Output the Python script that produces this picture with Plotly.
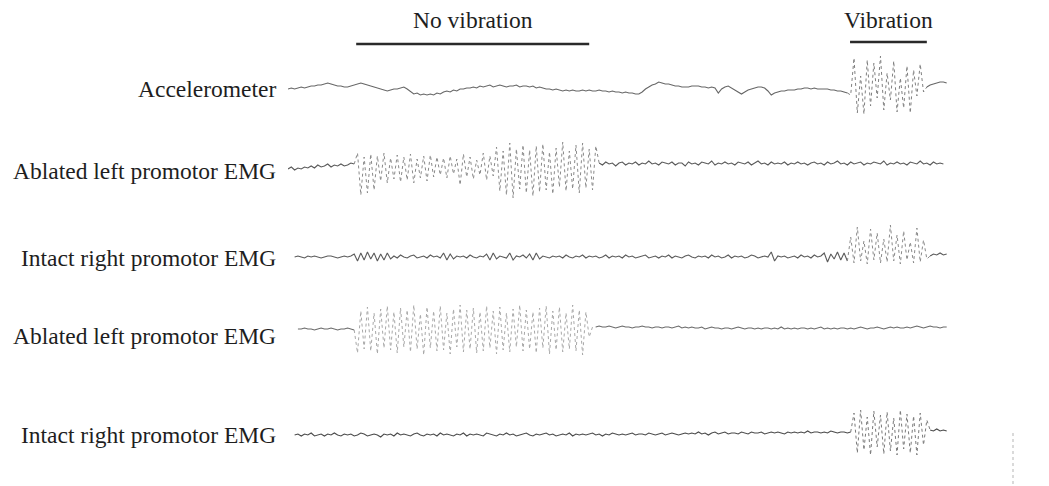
import plotly.graph_objects as go

# ---------------- data (amplitude in arbitrary units, one sample every 0.05 s) ----------------
dt = 0.05
channel_labels = ["Accelerometer", "Ablated left promotor EMG", "Intact right promotor EMG",
                  "Ablated left promotor EMG", "Intact right promotor EMG"]

no_vibration_period = [1.03, 4.55]   # s
vibration_period = [8.49, 9.65]      # s

accel = [
    -1, 0, -1, 0, 1, 0, 1, 2, 2, 3,
    3, 4, 5, 4, 3, 2, 2, 1, 1, 2,
    3, 4, 5, 4, 3, 2, 1, 0, -1, -2,
    -3, -2, -1, -1, 0, 1, -1, -4, -6, -5,
    -7, -6, -7, -6, -7, -5, -6, -4, -3, -4,
    -2, -3, -1, -1, 0, 0, 1, 0, 2, 1,
    2, 3, 1, 2, 3, 2, 1, 2, 2, 3,
    1, 2, 2, 1, 2, 0, 1, 0, -1, -1,
    -2, -1, -2, -3, -2, -3, -2, -3, -3, -2,
    -3, -2, -3, -3, -2, -3, -3, -4, -3, -4,
    -4, -5, -4, -5, -5, -6, -6, -4, -1, 1,
    3, 4, 6, 5, 4, 4, 3, 2, 2, 1,
    1, 1, 2, 2, 2, 1, 1, 0, 1, 0,
    -5, -1, 1, 2, 0, -2, -4, -6, -4, -2,
    -1, 0, 1, 1, 0, -3, -7, -5, -4, -3,
    -3, -2, -2, -2, -1, -1, 0, 0, -1, 0,
    -1, -1, -1, -1, -2, -2, -3, -3, -4, -5,
    -7, 30, -25, 12, -26, 28, -18, 25, -10, 32, -22, 15, -12, 27, -24, 10, -20, 22, -25, 18, -8, 24, -4,
    1, 3, 4, 5, 6, 6, 5,
]

ablated_left_1 = [
    -4, -2, -5, -3, -4, -2, -3, -1, -3, 0, -2, -1, 1, -2, 0, -1, 1, -1, 0, 2, 1,
    12, -30, 8, -28, 11, -25,
    9, -16, 12, -18, 7, -14, 10, -17, 8, -15, 11, -18, 6, -13, 9, -16, 10, -12, 8,
    -10, 7, -13, 9, -9, 6, -20, 11, -12, 8, -14, 5, -10, 12, -15, 9, -11,
    18, -26, 14, -30, 22, -33, 16, -24, 20, -28, 15, -31, 19, -27, 21, -25, 13, -29,
    17, -22, 23, -26, 14, -24, 20, -28, 22, -23, 16, -25, 19,
    2, 0, 3, 1, 2, -1, 2, 3, 0, 2,
    1, 3, 0, 2, 1, 4, 1, 2, 0, 3,
    2, 1, 3, 0, 2, 2, -1, 3, 1, 2,
    0, 3, 2, 1, 4, 0, 2, 1, 3, 1,
    2, 0, 3, 2, 1, 3, 0, 2, 4, 1,
    2, 0, 3, 1, 2, 1, 3, 0, 2, 1,
    3, 1, 2, 0, 2, 3, 1, 2, 0, 3,
    1, 2, 4, 1, 2, 0, 3, 1, 2, 3,
    0, 2, 1, 3, 2, 1, 4, 0, 2, 1,
    3, 1, 2, 0, 3, 2, 1, 4, 1, 2,
    0, 3, 1, 2, 1,
]

intact_right_1 = [
    None, None,
    0, 1, 0, -1, 1, 0, 1, 0, -1, 0, 1, 1, 0, -1, 0, 1, 0, 1,
    3, -4, 4, -3, 5, -2, 4, -4, 3, -3, 4, -2,
    1, -1, 2, 0, -1, 1, 2, -1, 0, 1,
    -1, 2, 0, 1, -1, 4, -3, 3, -2, 1,
    0, 1, -1, 2, 0, -1, 1, 0, 3, -3,
    4, -2, 1, 0, -1, 4, -3, 1, 0, 2,
    -1, 3, -3, 4, -2, 1, 0, -1, 1, 0,
    1, -1, 2, 0, -1, 1, 0, 2, -1, 1,
    0, 1, -1, 0, 2, -1, 1, 0, 1, -1,
    2, 0, 1, -1, 0, 1, 2, -1, 0, 1,
    -1, 1, 0, 2, -1, 1, 0, -1, 1, 2,
    0, -1, 1, 0, 1, -1, 2, 0, 1, -1,
    0, 2, -1, 1, 0, 1, -1, 0, 2, 1,
    -1, 0, 1, 0, 5, -4, 1, 0, 1, -1,
    0, 1, -1, 2, 0, 1, -1, 2, 0, 1,
    4, -5, 3, -2, 5, -3, 4, -4,
    20, -6, 30, -4, 16, -7, 28, -3, 24, -6, 18, -5, 32, -4, 22, -7, 26, -3, 15, -6, 29, -5, 17, -2,
    1, 3, 2, 4, 2, 3,
]

ablated_left_2 = [
    None, None, None,
    0, 0, 1, 0, 0, -1, 0, 1, 0, 0, 1, 0, -1, 0, 0, 1, 0, -1,
    -24, 18, -20, 22, -22, 16, -25, 20, -19, 23,
    -21, 17, -24, 21, -18, 19, -23, 24, -20, 15,
    -26, 22, -19, 18, -22, 23, -21, 16, -25, 20,
    -18, 24, -23, 19, -20, 21, -24, 17, -22, 23,
    -19, 18, -25, 22, -21, 16, -23, 20, -18, 24,
    -22, 19, -20, 17, -24, 21, -19, 23, -25, 18,
    -21, 22, -23, 16, -20, 24, -22, 19, -26, 17,
    -8, 2,
    2, 3, 2, 2, 3, 2, 1, 2, 3, 2,
    2, 1, 2, 2, 3, 2, 2, 1, 2, 2,
    1, 2, 2, 1, 2, 3, 1, 2, 1, 2,
    1, 1, 2, 0, 1, 2, 1, 1, 0, 1,
    1, 0, 1, 2, 1, 0, 1, 1, 0, 1,
    0, 1, 1, 0, 1, 0, 2, 0, 1, 0,
    1, 0, 1, 1, 0, 1, 0, 1, 2, 0,
    1, 0, 1, 0, 1, 1, 0, 1, 0, 1,
    2, 1, 0, 1, 1, 2, 1, 0, 1, 2,
    1, 2, 1, 1, 2, 1, 2, 3, 2, 1,
    2, 3, 2, 2, 1, 2, 2,
]

intact_right_2 = [
    None, None,
    0, 1, -1, 1, 0, 2, -1, 0, 1, -1,
    1, 0, 2, 0, -1, 1, 0, 1, -1, 0,
    2, 1, -1, 0, 1, 0, -2, 1, 0, 1,
    -1, 2, 0, 1, 0, -1, 1, 2, 0, -1,
    1, 0, 1, -1, 2, 0, 1, 0, -1, 1,
    0, 2, -1, 1, 0, 1, 0, -1, 2, 1,
    0, -1, 1, 0, 2, 0, 1, -1, 0, 1,
    2, 0, -1, 1, 0, 1, 2, 0, 1, -1,
    0, 1, 0, 2, -1, 1, 0, 1, 0, 1,
    2, 0, 1, -1, 1, 0, 2, 1, 0, 1,
    0, 1, 2, 0, 1, 1, 0, 2, 1, 0,
    1, 2, 0, 1, 2, 1, 0, 1, 2, 1,
    2, 1, 3, 1, 2, 0, 2, 3, 1, 2,
    3, 1, 2, 2, 1, 3, 2, 1, 3, 2,
    2, 3, 1, 2, 3, 2, 3, 2, 1, 3,
    2, 3, 2, 3, 2, 4, 2, 3, 3, 2,
    3, 2, 4, 3, 2, 3, 3, 2, 3,
    22, -18, 25, -15, 18, -20, 24, -12, 20, -19, 23, -16, 17, -20, 25, -14, 21, -18, 19, -20, 22, -10, 15,
    5, 4, 6, 4, 5, 4,
]

# burst windows (s)
burst_windows = [(8.48, 9.62), (1.03, 4.66), (8.48, 9.67), (1.03, 4.62), (8.53, 9.67)]

# ---------------- layout / style constants ----------------
W, H = 1049, 486
plot_left, plot_right = 288, 950
row_centre_px = [88, 165, 257, 329, 435]
label_centre_px = [89, 171, 258, 336, 435]
label_right_px = 278
half_band = 40
serif = "Liberation Serif, Times New Roman, serif"
base_colours = ["#666666", "#5a5a5a", "#5a5a5a", "#6a6a6a", "#4a4a4a"]
burst_colours = ["#808080", "#8a8a8a", "#8a8a8a", "#a8a8a8", "#7a7a7a"]

series = [accel, ablated_left_1, intact_right_1, ablated_left_2, intact_right_2]

fig = go.Figure()
layout_axes = {}
for k, (vals, win) in enumerate(zip(series, burst_windows)):
    ax = "" if k == 0 else str(k + 1)
    t = [i * dt for i in range(len(vals))]
    inside = [win[0] <= ti <= win[1] for ti in t]
    base = [v if not ins else None for v, ins in zip(vals, inside)]
    idx = [i for i, ins in enumerate(inside) if ins]
    lo, hi = max(idx[0] - 1, 0), min(idx[-1] + 1, len(vals) - 1)
    burst_t = t[lo:hi + 1]
    burst_v = vals[lo:hi + 1]
    fig.add_trace(go.Scatter(x=t, y=base, mode="lines", xaxis="x", yaxis="y" + ax,
                             line=dict(color=base_colours[k], width=1.1), connectgaps=False,
                             hoverinfo="skip", showlegend=False))
    fig.add_trace(go.Scatter(x=burst_t, y=burst_v, mode="lines", xaxis="x", yaxis="y" + ax,
                             line=dict(color=burst_colours[k], width=1, dash="dot"),
                             hoverinfo="skip", showlegend=False))
    yc = row_centre_px[k]
    layout_axes["yaxis" + ax] = dict(domain=[1 - (yc + half_band) / H, 1 - (yc - half_band) / H],
                                     range=[-half_band, half_band], visible=False,
                                     anchor="x", fixedrange=True)

annotations = []
for k, lab in enumerate(channel_labels):
    annotations.append(dict(text=lab, xref="paper", yref="paper", x=label_right_px / W,
                            y=1 - label_centre_px[k] / H, xanchor="right", yanchor="middle",
                            showarrow=False, font=dict(family=serif, size=23.5, color="#1e1e1e")))

annotations.append(dict(text="No vibration", xref="x", yref="paper",
                        x=sum(no_vibration_period) / 2, y=1 - 20 / H, xanchor="center",
                        yanchor="middle", showarrow=False,
                        font=dict(family=serif, size=23.5, color="#1e1e1e")))
annotations.append(dict(text="Vibration", xref="x", yref="paper",
                        x=sum(vibration_period) / 2, y=1 - 20 / H, xanchor="center",
                        yanchor="middle", showarrow=False,
                        font=dict(family=serif, size=23.5, color="#1e1e1e")))

shapes = [
    dict(type="line", xref="x", yref="paper", x0=no_vibration_period[0], x1=no_vibration_period[1],
         y0=1 - 44 / H, y1=1 - 44 / H, line=dict(color="#2a2a2a", width=2.5)),
    dict(type="line", xref="x", yref="paper", x0=vibration_period[0], x1=vibration_period[1],
         y0=1 - 42 / H, y1=1 - 42 / H, line=dict(color="#2a2a2a", width=2.5)),
    dict(type="line", xref="paper", yref="paper", x0=1013 / W, x1=1013 / W,
         y0=1 - 433 / H, y1=1 - 485 / H, line=dict(color="#b5b5b5", width=1, dash="dot")),
]

fig.update_layout(
    width=W, height=H,
    margin=dict(l=0, r=0, t=0, b=0),
    paper_bgcolor="white", plot_bgcolor="rgba(0,0,0,0)",
    xaxis=dict(domain=[plot_left / W, plot_right / W], range=[0, 10], visible=False, fixedrange=True),
    annotations=annotations, shapes=shapes,
    **layout_axes,
)

fig.write_html("out.html")
